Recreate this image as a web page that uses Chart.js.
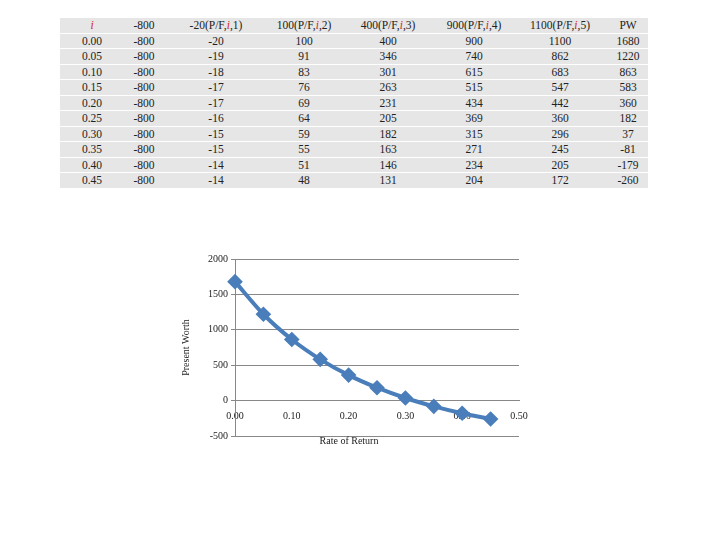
<!DOCTYPE html>
<html>
<head>
<meta charset="utf-8">
<script src="https://cdn.jsdelivr.net/npm/chart.js@4"></script>
<style>
  body { margin: 0; background: #fff; font-family: 'Liberation Serif', serif; }
  table { position: absolute; left: 60px; top: 17px; width: 588px; border-collapse: separate; border-spacing: 0 1px; font-size: 11.5px; color: #222; }
  td { background: #e6e6e6; text-align: center; height: 14.5px; padding: 0; line-height: 14px; }
  .r { color: #d62020; font-style: italic; }
  #wrap { position: absolute; left: 180px; top: 250px; width: 360px; height: 200px; }
  #xt { position: absolute; left: 235px; width: 228px; top: 435px; text-align: center; font-size: 10px; color: #222; }
</style>
</head>
<body>
<table id="tbl"></table>
<div id="wrap"><canvas id="c"></canvas></div>
<div id="xt">Rate of Return</div>
<script>
const rates = [0.00, 0.05, 0.10, 0.15, 0.20, 0.25, 0.30, 0.35, 0.40, 0.45];
const col0 = [-800, -800, -800, -800, -800, -800, -800, -800, -800, -800];
const col1 = [-20, -19, -18, -17, -17, -16, -15, -15, -14, -14];
const col2 = [100, 91, 83, 76, 69, 64, 59, 55, 51, 48];
const col3 = [400, 346, 301, 263, 231, 205, 182, 163, 146, 131];
const col4 = [900, 740, 615, 515, 434, 369, 315, 271, 234, 204];
const col5 = [1100, 862, 683, 547, 442, 360, 296, 245, 205, 172];
const pw = [1680, 1220, 863, 583, 360, 182, 37, -81, -179, -260];
const headers = ['<span class="r">i</span>', '-800', '-20(P/F,<span class="r">i</span>,1)',
  '100(P/F,<span class="r">i</span>,2)', '400(P/F,<span class="r">i</span>,3)',
  '900(P/F,<span class="r">i</span>,4)', '1100(P/F,<span class="r">i</span>,5)', 'PW'];
const widths = [64, 40, 104, 72, 96, 76, 96, 40];

const tbl = document.getElementById('tbl');
let html = '<tr>' + headers.map((h, k) => `<td style="width:${widths[k]}px">${h}</td>`).join('') + '</tr>';
rates.forEach((r, k) => {
  const row = [r.toFixed(2), col0[k], col1[k], col2[k], col3[k], col4[k], col5[k], pw[k]];
  html += '<tr>' + row.map(v => `<td>${v}</td>`).join('') + '</tr>';
});
tbl.innerHTML = html;

Chart.defaults.font.family = "'Liberation Serif', serif";
Chart.defaults.font.size = 10;
Chart.defaults.color = '#222';

new Chart(document.getElementById('c'), {
  type: 'line',
  data: {
    datasets: [{
      data: rates.map((r, k) => ({ x: r, y: pw[k] })),
      borderColor: '#4a7ebb',
      backgroundColor: '#4a7ebb',
      borderWidth: 4,
      pointStyle: 'rectRot',
      pointRadius: 5,
      tension: 0.3,
      clip: false,
    }]
  },
  options: {
    responsive: true,
    maintainAspectRatio: false,
    animation: false,
    layout: { padding: { top: 9, bottom: 14, right: 21 } },
    plugins: { legend: { display: false }, tooltip: { enabled: false } },
    scales: {
      x: {
        type: 'linear',
        position: { y: 0 },
        min: 0, max: 0.5,
        grid: { display: false },
        border: { color: '#888' },
        ticks: { stepSize: 0.1, callback: v => v.toFixed(2), padding: 2 },
      },
      y: {
        min: -500, max: 2000,
        afterFit: s => { s.width = 55; },
        grid: { color: '#888', drawTicks: true, tickLength: 4 },
        border: { color: '#888' },
        ticks: { stepSize: 500, callback: v => String(v) },
        title: { display: true, text: 'Present Worth', padding: 0 },
      }
    }
  }
});
</script>
</body>
</html>
